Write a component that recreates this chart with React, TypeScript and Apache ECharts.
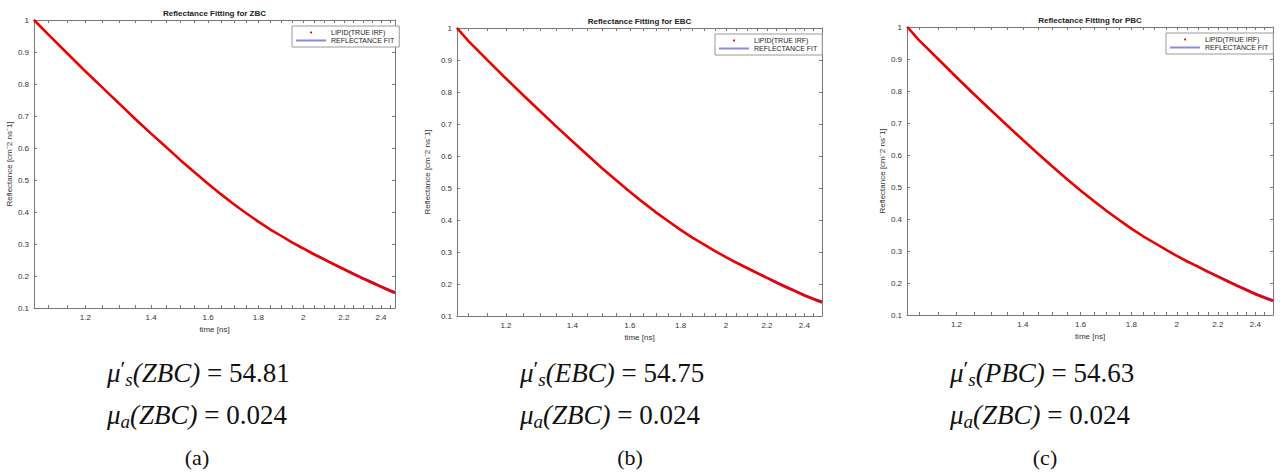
import React, { useEffect, useRef } from "react";
import * as echarts from "echarts";

// ---------- data ----------
const panelTitles = ["Reflectance Fitting for ZBC", "Reflectance Fitting for EBC", "Reflectance Fitting for PBC"];
const seriesNames = ["LIPID(TRUE IRF)", "REFLECTANCE FIT"];

const timeA = [1.064, 1.1, 1.15, 1.2, 1.25, 1.3, 1.35, 1.4, 1.45, 1.5, 1.55, 1.6, 1.65, 1.7, 1.75, 1.8, 1.85, 1.9, 1.95, 2.0, 2.05, 2.1, 2.15, 2.2, 2.25, 2.3, 2.35, 2.4, 2.45, 2.48];
const timeB = [1.071, 1.1, 1.15, 1.2, 1.25, 1.3, 1.35, 1.4, 1.45, 1.5, 1.55, 1.6, 1.65, 1.7, 1.75, 1.8, 1.85, 1.9, 1.95, 2.0, 2.05, 2.1, 2.15, 2.2, 2.25, 2.3, 2.35, 2.4, 2.45, 2.5];

const zbcData = [1.0, 0.955, 0.896, 0.84, 0.788, 0.738, 0.69, 0.645, 0.603, 0.562, 0.524, 0.488, 0.455, 0.424, 0.396, 0.37, 0.346, 0.325, 0.304, 0.286, 0.268, 0.252, 0.236, 0.221, 0.206, 0.192, 0.179, 0.166, 0.154, 0.147];
const zbcFit = [1.0, 0.955, 0.896, 0.84, 0.788, 0.738, 0.69, 0.645, 0.603, 0.562, 0.524, 0.488, 0.455, 0.424, 0.396, 0.37, 0.346, 0.325, 0.304, 0.286, 0.27, 0.254, 0.238, 0.223, 0.209, 0.195, 0.182, 0.169, 0.157, 0.15];
const ebcData = [1.0, 0.959, 0.899, 0.842, 0.789, 0.739, 0.691, 0.646, 0.603, 0.562, 0.524, 0.488, 0.455, 0.424, 0.396, 0.369, 0.345, 0.324, 0.303, 0.284, 0.266, 0.25, 0.234, 0.219, 0.204, 0.19, 0.177, 0.164, 0.153, 0.142];
const ebcFit = [1.0, 0.959, 0.899, 0.842, 0.789, 0.739, 0.691, 0.646, 0.603, 0.562, 0.524, 0.488, 0.455, 0.424, 0.396, 0.369, 0.345, 0.324, 0.303, 0.284, 0.268, 0.252, 0.236, 0.221, 0.207, 0.193, 0.18, 0.167, 0.156, 0.146];
const pbcData = [1.0, 0.959, 0.9, 0.843, 0.79, 0.74, 0.692, 0.647, 0.604, 0.563, 0.525, 0.489, 0.456, 0.425, 0.397, 0.37, 0.346, 0.325, 0.304, 0.285, 0.267, 0.251, 0.235, 0.22, 0.205, 0.191, 0.178, 0.165, 0.154, 0.144];
const pbcFit = [1.0, 0.959, 0.9, 0.843, 0.79, 0.74, 0.692, 0.647, 0.604, 0.563, 0.525, 0.489, 0.456, 0.425, 0.397, 0.37, 0.346, 0.325, 0.304, 0.285, 0.269, 0.253, 0.237, 0.222, 0.208, 0.194, 0.181, 0.168, 0.157, 0.147];

const xMajorTicks = [1.2, 1.4, 1.6, 1.8, 2, 2.2, 2.4];
const xMinorTicks = [1.1, 1.15, 1.25, 1.3, 1.35, 1.45, 1.5, 1.55, 1.65, 1.7, 1.75, 1.85, 1.9, 1.95, 2.05, 2.1, 2.15, 2.25, 2.3, 2.35, 2.45];
const xMin = [1.064, 1.071, 1.07];
const xMax = [2.48, 2.5, 2.5];
const yMin = 0.1;
const yMax = 1;
const yStep = 0.1;

const musTags = ["ZBC", "EBC", "PBC"];
const musValues = ["54.81", "54.75", "54.63"];
const muaTags = ["ZBC", "ZBC", "ZBC"];
const muaValues = ["0.024", "0.024", "0.024"];
const captions = ["(a)", "(b)", "(c)"];

// ---------- layout ----------
const grids = [
  { left: 34, top: 20, width: 361, height: 288 },
  { left: 457, top: 28, width: 365, height: 288 },
  { left: 907, top: 27, width: 366, height: 288 },
];
const titleY = [13, 21, 20];
const legendPos = [
  { left: 292, top: 26 },
  { left: 715, top: 34 },
  { left: 1166, top: 33 },
];
const yNameGap = [17, 26, 19];
const textLeft = [107, 520, 950];
const captionCenter = [197, 630, 1045];

const sans = '"Liberation Sans", Arial, Helvetica, sans-serif';
const serif = '"Liberation Serif", "Times New Roman", serif';
const axisColor = "#7a7a7a";
const redColor = "#ee0000";
const blueColor = "#3434d6";

function fmtTime(v: number) {
  const t = Math.pow(10, v);
  return String(Math.round(t * 10) / 10);
}

function buildOption() {
  const dataSets = [
    [timeA, zbcData, zbcFit],
    [timeB, ebcData, ebcFit],
    [timeB, pbcData, pbcFit],
  ];
  const allTicks = [...xMajorTicks, ...xMinorTicks].map((t) => Math.log10(t));
  const majorVals = xMajorTicks.map((t) => Math.log10(t));

  const xAxis: any[] = [];
  const yAxis: any[] = [];
  const series: any[] = [];
  const legend: any[] = [];
  const graphic: any[] = [];

  grids.forEach((g, p) => {
    const lo = Math.log10(xMin[p]);
    const hi = Math.log10(xMax[p]);
    xAxis.push({
      type: "value",
      gridIndex: p,
      position: "bottom",
      min: lo,
      max: hi,
      name: "time [ns]",
      nameLocation: "middle",
      nameGap: 17,
      nameTextStyle: { fontSize: 8, color: "#333", fontFamily: sans },
      axisLine: { show: true, onZero: false, lineStyle: { color: axisColor, width: 1 } },
      axisTick: { show: true, inside: true, length: 3, customValues: allTicks, lineStyle: { color: axisColor } },
      axisLabel: { customValues: majorVals, formatter: fmtTime, fontSize: 8, color: "#333", fontFamily: sans, margin: 5 },
      splitLine: { show: false },
    });
    xAxis.push({
      type: "value",
      gridIndex: p,
      position: "top",
      min: lo,
      max: hi,
      axisLine: { show: true, onZero: false, lineStyle: { color: axisColor, width: 1 } },
      axisTick: { show: true, inside: true, length: 3, customValues: allTicks, lineStyle: { color: axisColor } },
      axisLabel: { show: false },
      splitLine: { show: false },
    });
    yAxis.push({
      type: "value",
      gridIndex: p,
      position: "left",
      min: yMin,
      max: yMax,
      interval: yStep,
      name: "Reflectance [cm\u207B2 ns\u207B1]",
      nameLocation: "middle",
      nameGap: yNameGap[p],
      nameTextStyle: { fontSize: 8, color: "#333", fontFamily: sans },
      axisLine: { show: true, onZero: false, lineStyle: { color: axisColor, width: 1 } },
      axisTick: { show: true, inside: true, length: 3, lineStyle: { color: axisColor } },
      axisLabel: {
        fontSize: 8,
        color: "#333",
        fontFamily: sans,
        margin: 5,
        formatter: (v: number) => String(Math.round(v * 10) / 10),
      },
      splitLine: { show: false },
    });
    yAxis.push({
      type: "value",
      gridIndex: p,
      position: "right",
      min: yMin,
      max: yMax,
      interval: yStep,
      axisLine: { show: true, onZero: false, lineStyle: { color: axisColor, width: 1 } },
      axisTick: { show: true, inside: true, length: 3, lineStyle: { color: axisColor } },
      axisLabel: { show: false },
      splitLine: { show: false },
    });

    const [tArr, dArr, fArr] = dataSets[p];
    series.push({
      type: "line",
      name: seriesNames[1],
      xAxisIndex: 2 * p,
      yAxisIndex: 2 * p,
      data: tArr.map((t, i) => [Math.log10(t), fArr[i]]),
      showSymbol: false,
      smooth: false,
      color: blueColor,
      lineStyle: { color: blueColor, width: 1.4 },
      z: 2,
    });
    series.push({
      type: "line",
      name: seriesNames[0],
      xAxisIndex: 2 * p,
      yAxisIndex: 2 * p,
      data: tArr.map((t, i) => [Math.log10(t), dArr[i]]),
      showSymbol: false,
      smooth: false,
      color: redColor,
      lineStyle: { color: redColor, width: 2.6 },
      z: 3,
    });

    legend.push({
      orient: "vertical",
      left: legendPos[p].left,
      top: legendPos[p].top,
      padding: [3, 5, 3, 4],
      itemGap: 1,
      itemWidth: 30,
      itemHeight: 2,
      backgroundColor: "#ffffff",
      borderColor: "#9a9a9a",
      borderWidth: 1,
      borderRadius: 0,
      selectedMode: false,
      textStyle: { fontSize: 7, color: "#222", fontFamily: sans, padding: [1, 0, 1, 0] },
      data: [
        { name: seriesNames[0], icon: "circle", itemStyle: { color: redColor, borderWidth: 0 } },
        { name: seriesNames[1], icon: "rect", itemStyle: { color: "#8a8ae6", borderWidth: 0 } },
      ],
    });

    // bottom annotations
    const richBase = {
      i: { fontFamily: serif, fontStyle: "italic", fontSize: 27, lineHeight: 32, fill: "#111" },
      n: { fontFamily: serif, fontSize: 27, lineHeight: 32, fill: "#111" },
      p: { fontFamily: serif, fontSize: 22, lineHeight: 32, fill: "#111", verticalAlign: "top" },
      s: { fontFamily: serif, fontStyle: "italic", fontSize: 19, lineHeight: 20, fill: "#111", verticalAlign: "bottom" },
    };
    graphic.push({
      type: "text",
      x: textLeft[p],
      y: 373,
      style: {
        text: `{i|\u03BC}{p|\u2032}{s|s}{i|(${musTags[p]})}{n| = ${musValues[p]}}`,
        rich: richBase,
        verticalAlign: "middle",
        align: "left",
      },
    });
    graphic.push({
      type: "text",
      x: textLeft[p],
      y: 415,
      style: {
        text: `{i|\u03BC}{s|a}{i|(${muaTags[p]})}{n| = ${muaValues[p]}}`,
        rich: richBase,
        verticalAlign: "middle",
        align: "left",
      },
    });
    graphic.push({
      type: "text",
      x: captionCenter[p],
      y: 457,
      style: {
        text: captions[p],
        font: `22px ${serif}`,
        fill: "#111",
        align: "center",
        verticalAlign: "middle",
      },
    });
  });

  const title = panelTitles.map((t, p) => ({
    text: t,
    left: grids[p].left + grids[p].width / 2,
    top: titleY[p],
    textAlign: "center",
    textVerticalAlign: "middle",
    padding: 0,
    textStyle: { fontSize: 8, fontWeight: "bold", color: "#222", fontFamily: sans },
  }));

  return {
    animation: false,
    backgroundColor: "#ffffff",
    title,
    legend,
    grid: grids.map((g) => ({ ...g, containLabel: false })),
    xAxis,
    yAxis,
    series,
    graphic,
  };
}

export default function App() {
  const ref = useRef<HTMLDivElement>(null);
  useEffect(() => {
    if (!ref.current) return;
    const chart = echarts.init(ref.current, undefined, { renderer: "svg" });
    chart.setOption(buildOption() as any);
    return () => chart.dispose();
  }, []);
  return (
    <div
      ref={ref}
      style={{ position: "absolute", left: 0, top: 0, width: 1280, height: 475, background: "#fff" }}
    />
  );
}
